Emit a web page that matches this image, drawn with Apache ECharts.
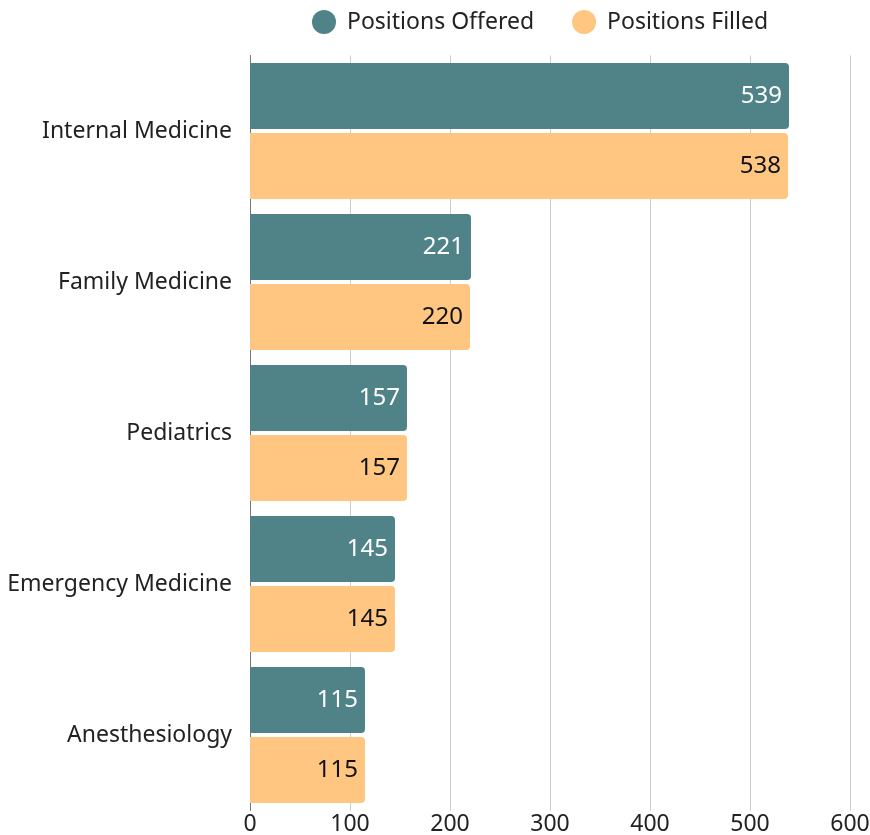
<!DOCTYPE html>
<html>
<head>
<meta charset="utf-8">
<script src="https://cdn.jsdelivr.net/npm/echarts@6/dist/echarts.min.js"></script>
<style>
  html, body { margin: 0; padding: 0; background: #fff; }
  #main { width: 870px; height: 835px; }
</style>
</head>
<body>
<div id="main"></div>
<script>
// specialties, top to bottom
var specialties = ['Internal Medicine', 'Family Medicine', 'Pediatrics', 'Emergency Medicine', 'Anesthesiology'];
var offered = [539, 221, 157, 145, 115];
var filled = [538, 220, 157, 145, 115];

var chart = echarts.init(document.getElementById('main'));
var font = 'Noto Sans';

var option = {
  textStyle: { fontFamily: font },
  legend: {
    top: 5,
    left: 307,
    icon: 'circle',
    itemWidth: 36,
    itemHeight: 24,
    itemGap: 38,
    textStyle: { fontSize: 23, color: '#222', fontFamily: font },
    data: ['Positions Offered', 'Positions Filled']
  },
  grid: {
    left: 250,
    right: 20,
    top: 55.5,
    bottom: 24.5,
    outerBoundsMode: 'none'
  },
  xAxis: {
    type: 'value',
    min: 0,
    max: 600,
    interval: 100,
    axisLine: { show: false },
    axisTick: { show: false },
    axisLabel: { fontSize: 23, color: '#222', margin: 2 },
    splitLine: { lineStyle: { color: '#cccccc', width: 1 } }
  },
  yAxis: {
    type: 'category',
    inverse: true,
    data: specialties,
    axisTick: { show: false },
    axisLine: { show: true, lineStyle: { color: '#777', width: 1 } },
    axisLabel: { fontSize: 23, color: '#222', margin: 18 }
  },
  series: [
    {
      name: 'Positions Offered',
      type: 'bar',
      data: offered,
      barGap: '6%',
      barCategoryGap: '10%',
      itemStyle: { color: '#4f8388', borderRadius: [0, 4, 4, 0] },
      label: { show: true, position: 'insideRight', color: '#ffffff', fontSize: 24, distance: 7 }
    },
    {
      name: 'Positions Filled',
      type: 'bar',
      data: filled,
      barGap: '6%',
      barCategoryGap: '10%',
      itemStyle: { color: '#ffc682', borderRadius: [0, 4, 4, 0] },
      label: { show: true, position: 'insideRight', color: '#111111', fontSize: 24, distance: 7 }
    }
  ]
};

chart.setOption(option);
</script>
</body>
</html>
